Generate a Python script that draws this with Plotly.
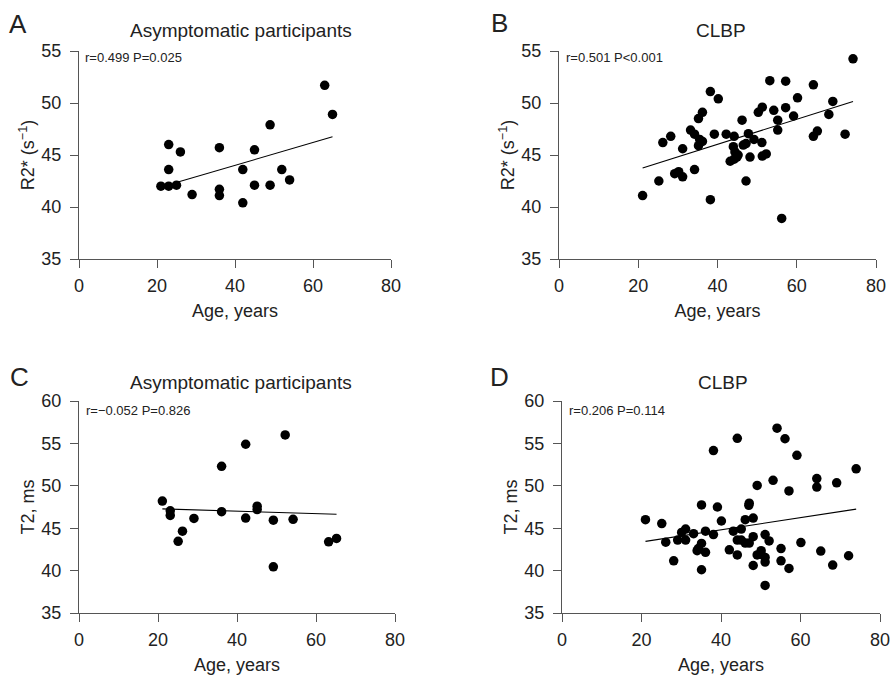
import plotly.graph_objects as go

# ---------------- data ----------------
# Panel A: asymptomatic participants, R2*
age_a = [21, 23, 25, 23, 23, 26, 29, 36, 36, 36, 42, 42, 45, 45, 49, 49, 52, 54, 63, 65]
r2_a = [42.0, 42.0, 42.1, 43.6, 46.0, 45.3, 41.2, 45.7, 41.7, 41.1, 40.4, 43.6, 45.5, 42.1,
        47.9, 42.1, 43.6, 42.6, 51.7, 48.9]
fit_a_x = [24.5, 65.0]
fit_a_y = [42.3, 46.75]

# Panel B: CLBP, R2*
age_b = [21.1, 25.2, 26.2, 28.2, 29.2, 30.2, 31.2, 31.2, 33.2, 34.2, 34.2, 35.2, 36.2, 35.2,
         36.2, 35.5, 38.2, 38.2, 39.2, 40.2, 42.2, 44.2, 43.2, 44.2, 44.0, 44.4, 44.9, 46.2,
         46.5, 47.2, 47.2, 47.8, 48.2, 49.2, 50.3, 51.3, 51.2, 51.3, 52.3, 53.2, 54.2, 55.2,
         55.2, 56.2, 57.2, 57.2, 59.2, 60.2, 64.2, 64.2, 65.2, 68.1, 69.1, 72.2, 74.2, 45.2]
r2_b = [41.1, 42.5, 46.2, 46.8, 43.2, 43.4, 42.9, 45.6, 47.4, 47.0, 43.6, 48.5, 49.1, 45.9,
        46.3, 46.5, 51.1, 40.7, 47.0, 50.4, 47.0, 46.8, 44.4, 44.6, 45.8, 45.3, 44.8, 48.35,
        45.95, 42.5, 46.1, 47.05, 44.8, 46.5, 49.1, 49.6, 46.2, 44.9, 45.1, 52.15, 49.3, 48.35,
        47.4, 38.9, 52.1, 49.55, 48.75, 50.5, 51.75, 46.8, 47.3, 48.9, 50.15, 47.0, 54.25, 45.0]
fit_b_x = [21.1, 74.2]
fit_b_y = [43.75, 50.15]

# Panel C: asymptomatic participants, T2
age_c = [21.1, 23.1, 23.1, 25.1, 26.2, 29.1, 36.1, 36.1, 42.2, 42.2, 45.1, 45.1, 49.2, 49.2,
         52.2, 54.2, 63.2, 65.2]
t2_c = [48.2, 47.05, 46.5, 43.45, 44.65, 46.15, 52.3, 46.95, 54.9, 46.2, 47.6, 47.2, 45.95,
        40.45, 56.0, 46.05, 43.4, 43.8]
fit_c_x = [21.1, 65.2]
fit_c_y = [47.28, 46.65]

# Panel D: CLBP, T2
age_d = [21.0, 25.1, 26.1, 28.1, 29.1, 30.1, 31.1, 31.1, 33.1, 34.0, 35.1, 35.1, 35.1, 36.1,
         36.1, 38.1, 38.1, 39.1, 40.1, 42.1, 43.1, 44.1, 44.1, 44.1, 45.1, 45.1, 46.1, 46.1,
         47.1, 47.1, 48.1, 48.1, 48.1, 49.1, 49.1, 50.1, 50.1, 51.1, 51.1, 51.1, 51.1, 52.1,
         53.1, 54.1, 55.1, 55.1, 56.1, 57.1, 57.1, 59.1, 60.1, 64.1, 64.1, 65.1, 68.1, 69.1,
         72.1, 74.0, 47.0, 34.3]
t2_d = [46.0, 45.55, 43.35, 41.15, 43.6, 44.5, 44.9, 43.6, 44.35, 42.35, 43.2, 47.75, 40.1,
        44.65, 42.15, 54.15, 44.25, 47.5, 45.85, 42.45, 44.65, 55.6, 43.6, 41.85, 44.9, 43.6,
        46.0, 43.25, 47.95, 43.25, 46.2, 44.0, 40.6, 50.05, 41.85, 42.35, 41.9, 44.25, 41.55,
        41.0, 38.25, 43.5, 50.65, 56.8, 42.6, 41.15, 55.55, 49.4, 40.25, 53.6, 43.3, 50.85,
        49.85, 42.3, 40.65, 50.35, 41.75, 52.0, 47.7, 42.6]
fit_d_x = [21.0, 74.0]
fit_d_y = [43.45, 47.25]

x_ticks = [0, 20, 40, 60, 80]
r2_ticks = [35, 40, 45, 50, 55]
t2_ticks = [35, 40, 45, 50, 55, 60]

titles = ["Asymptomatic participants", "CLBP", "Asymptomatic participants", "CLBP"]
letters = ["A", "B", "C", "D"]
stats = ["r=0.499 P=0.025", "r=0.501 P<0.001", "r=\u22120.052 P=0.826", "r=0.206 P=0.114"]
y_titles = ["R2* (s<sup>\u22121</sup>)", "R2* (s<sup>\u22121</sup>)", "T2, ms", "T2, ms"]
x_title = "Age, years"

# ---------------- layout geometry (pixels) ----------------
W, H = 892, 676
FONT = "Liberation Sans, Arial, Helvetica, sans-serif"
TXT = "#222222"
AX = "#555555"

# plot boxes: (left, right, top, bottom) in px
boxes = [(79, 391, 51, 259), (559, 876, 51, 259), (79, 395, 401, 613), (562, 880, 401, 613)]
letter_pos = [(18, 24), (499, 23), (19, 377), (499, 377)]
title_pos = [(241, 30), (721, 30), (241, 383), (723, 383)]
stat_pos = [(83, 57), (564, 57), (84, 410), (567, 410)]

fig = go.Figure()

series = [(age_a, r2_a, fit_a_x, fit_a_y), (age_b, r2_b, fit_b_x, fit_b_y),
          (age_c, t2_c, fit_c_x, fit_c_y), (age_d, t2_d, fit_d_x, fit_d_y)]

for i, (xs, ys, fx, fy) in enumerate(series):
    n = "" if i == 0 else str(i + 1)
    fig.add_trace(go.Scatter(x=fx, y=fy, mode="lines", xaxis="x" + n, yaxis="y" + n,
                             line=dict(color="black", width=1.1), showlegend=False))
    fig.add_trace(go.Scatter(x=xs, y=ys, mode="markers", xaxis="x" + n, yaxis="y" + n,
                             marker=dict(color="black", size=9.5, line=dict(width=0)),
                             showlegend=False, cliponaxis=False))

layout = dict(width=W, height=H, margin=dict(l=0, r=0, t=0, b=0, autoexpand=False),
              paper_bgcolor="white", plot_bgcolor="white",
              font=dict(family=FONT, color=TXT, size=18), showlegend=False)

annotations = []
for i in range(4):
    n = "" if i == 0 else str(i + 1)
    l, r, t, b = boxes[i]
    yt = r2_ticks if i < 2 else t2_ticks
    layout["xaxis" + n] = dict(domain=[l / W, r / W], range=[0, 80], anchor="y" + n,
                               tickvals=x_ticks, ticks="outside", ticklen=8, tickwidth=1.2,
                               tickcolor=AX, showline=True, linecolor=AX, linewidth=1.2,
                               showgrid=False, zeroline=False, automargin=False,
                               ticklabelstandoff=2,
                               tickfont=dict(size=18, color=TXT),
                               title=dict(text=x_title, font=dict(size=18, color=TXT), standoff=9))
    layout["yaxis" + n] = dict(domain=[1 - b / H, 1 - t / H], range=[yt[0], yt[-1]],
                               anchor="x" + n, tickvals=yt, ticks="outside", ticklen=8,
                               tickwidth=1.2, tickcolor=AX, showline=True, linecolor=AX,
                               linewidth=1.2, showgrid=False, zeroline=False, automargin=False,
                               ticklabelstandoff=5,
                               tickfont=dict(size=18, color=TXT),
                               title=dict(text=y_titles[i], font=dict(size=18, color=TXT),
                                          standoff=1))
    lx, ly = letter_pos[i]
    annotations.append(dict(text=letters[i], x=lx / W, y=1 - ly / H, xref="paper", yref="paper",
                            showarrow=False, xanchor="center", yanchor="middle",
                            font=dict(size=26, color=TXT, family=FONT)))
    tx, ty = title_pos[i]
    annotations.append(dict(text=titles[i], x=tx / W, y=1 - ty / H, xref="paper", yref="paper",
                            showarrow=False, xanchor="center", yanchor="middle",
                            font=dict(size=19, color=TXT, family=FONT)))
    sx, sy = stat_pos[i]
    annotations.append(dict(text=stats[i], x=sx / W, y=1 - sy / H, xref="paper",
                            yref="paper", showarrow=False, xanchor="left", yanchor="middle",
                            font=dict(size=13, color=TXT, family=FONT)))

layout["annotations"] = annotations
fig.update_layout(**layout)
fig.write_html("out.html", config={"displayModeBar": False},
               post_script="document.body.style.margin='0px';"
                           "document.documentElement.style.overflow='hidden';")
